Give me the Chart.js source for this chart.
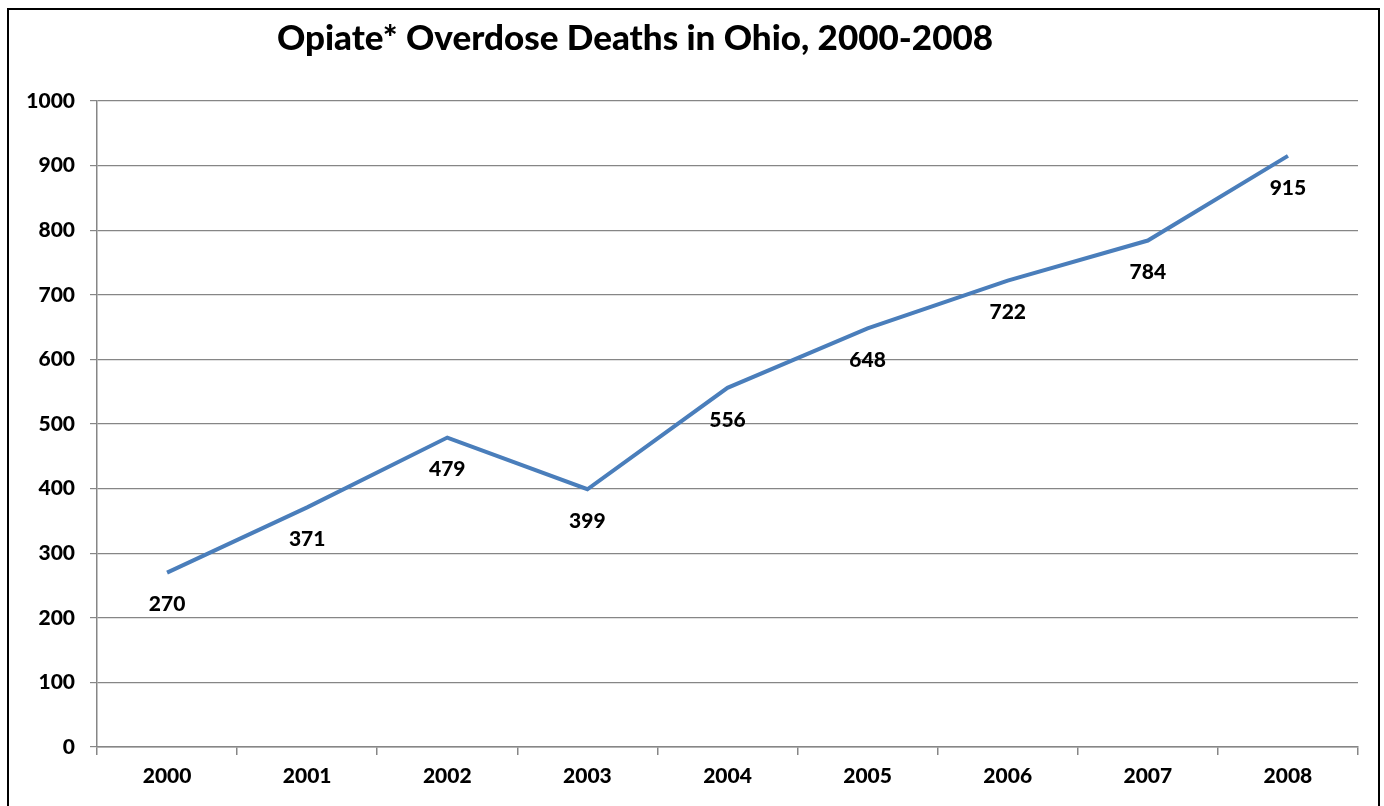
<!DOCTYPE html>
<html>
<head>
<meta charset="utf-8">
<script src="https://cdn.jsdelivr.net/npm/chart.js@4.4.1/dist/chart.umd.min.js"></script>
<style>
  html, body { margin: 0; padding: 0; background: #fff; }
  #wrap { width: 1384px; height: 806px; position: relative; }
</style>
</head>
<body>
<div id="wrap"><canvas id="chart"></canvas></div>
<script>
// *** data for display ***
const TITLE = "Opiate* Overdose Deaths in Ohio, 2000-2008";
const YEARS = ["2000", "2001", "2002", "2003", "2004", "2005", "2006", "2007", "2008"];
const DEATHS = [270, 371, 479, 399, 556, 648, 722, 784, 915];

const FONT = "Lato, Carlito, 'Liberation Sans', sans-serif";

// border + title drawn on the canvas
const framePlugin = {
    id: "frame",
    beforeDraw(chart) {
        const ctx = chart.ctx;
        ctx.save();
        ctx.strokeStyle = "#000";
        ctx.lineWidth = 2;
        ctx.strokeRect(8, 9, 1371, 820);
        ctx.fillStyle = "#000";
        ctx.font = "900 35px " + FONT;
        ctx.textAlign = "center";
        ctx.textBaseline = "middle";
        ctx.fillText(TITLE, 635, 39);
        ctx.restore();
    }
};

// value labels under each point
const labelPlugin = {
    id: "valueLabels",
    afterDatasetsDraw(chart) {
        const ctx = chart.ctx;
        const meta = chart.getDatasetMeta(0);
        ctx.save();
        ctx.fillStyle = "#000";
        ctx.font = "900 21px " + FONT;
        ctx.textAlign = "center";
        ctx.textBaseline = "middle";
        meta.data.forEach(function (pt, i) {
            ctx.fillText(String(DEATHS[i]), pt.x, pt.y + 32);
        });
        ctx.restore();
    }
};

const ctx = document.getElementById("chart").getContext("2d");
new Chart(ctx, {
    type: "line",
    data: {
        labels: YEARS,
        datasets: [{
            label: "Deaths",
            data: DEATHS,
            borderColor: "#4a7ebb",
            borderWidth: 4,
            pointRadius: 0,
            tension: 0,
            fill: false
        }]
    },
    options: {
        responsive: true,
        maintainAspectRatio: false,
        animation: false,
        layout: { padding: { top: 101, right: 26, bottom: 0, left: 0 } },
        plugins: {
            legend: { display: false },
            title: { display: false },
            tooltip: { enabled: false }
        },
        scales: {
            x: {
                offset: true,
                grid: {
                    offset: true,
                    drawOnChartArea: false,
                    drawTicks: true,
                    tickLength: 8,
                    color: "#868686",
                    lineWidth: 1.5
                },
                border: { color: "#868686", width: 1.5 },
                ticks: {
                    color: "#000",
                    padding: 9,
                    font: { family: FONT, size: 21, weight: "900" }
                },
                afterFit(scale) { scale.height = 59; }
            },
            y: {
                min: 0,
                max: 1000,
                ticks: {
                    stepSize: 100,
                    color: "#000",
                    padding: 15,
                    font: { family: FONT, size: 21, weight: "900" },
                    callback: function (v) { return String(v); }
                },
                grid: { color: "#868686", lineWidth: 1.2, tickLength: 7 },
                border: { color: "#868686", width: 1.5 },
                afterFit(scale) { scale.width = 97; }
            }
        }
    },
    plugins: [framePlugin, labelPlugin]
});
</script>
</body>
</html>
